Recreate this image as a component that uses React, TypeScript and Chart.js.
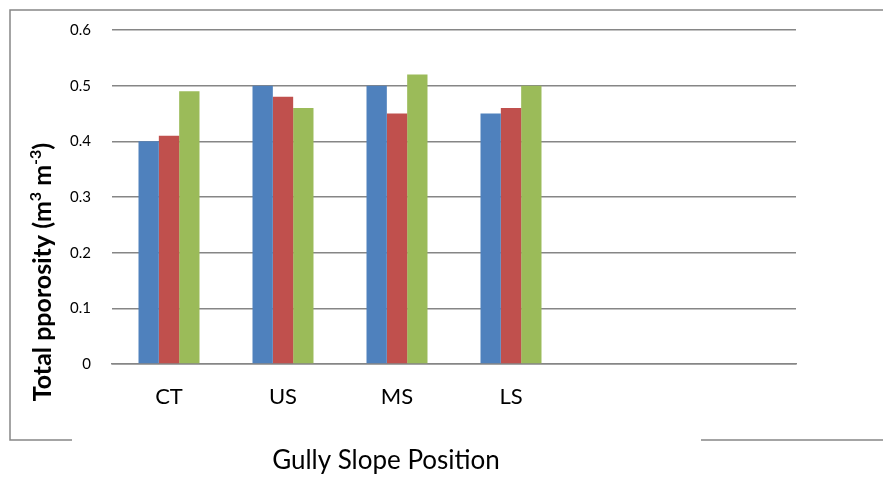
import React, { useEffect, useRef } from "react";
import { Chart, registerables } from "chart.js";

Chart.register(...registerables);

const categories = ["CT", "US", "MS", "LS", "", ""];
const series1 = [0.4, 0.5, 0.5, 0.45];
const series2 = [0.41, 0.48, 0.45, 0.46];
const series3 = [0.49, 0.46, 0.52, 0.5];
const yTicks = [0, 0.1, 0.2, 0.3, 0.4, 0.5, 0.6];
const xTitle = "Gully Slope Position";
const yTitleParts: { t: string; sup?: boolean }[] = [
  { t: "Total pporosity (m" },
  { t: "3", sup: true },
  { t: " m" },
  { t: "-3", sup: true },
  { t: ")" },
];

const FONT = "Lato, 'Open Sans', sans-serif";
const GRID = "#868686";

const decorPlugin = {
  id: "decor",
  beforeDraw(chart: any) {
    const ctx = chart.ctx;
    ctx.save();
    ctx.fillStyle = "#ffffff";
    ctx.fillRect(0, 0, chart.width, chart.height);
    ctx.strokeStyle = GRID;
    ctx.lineWidth = 1.5;
    ctx.beginPath();
    ctx.moveTo(chart.width, 10);
    ctx.lineTo(10, 10);
    ctx.lineTo(10, 440);
    ctx.lineTo(72, 440);
    ctx.moveTo(701, 440);
    ctx.lineTo(chart.width, 440);
    ctx.stroke();
    ctx.restore();
  },
  afterDraw(chart: any) {
    const ctx = chart.ctx;
    ctx.save();
    // x title
    ctx.fillStyle = "#000000";
    ctx.font = `26px ${FONT}`;
    ctx.textAlign = "center";
    ctx.textBaseline = "middle";
    ctx.fillText(xTitle, 386, 461);
    // y title (rotated, with superscripts)
    const big = `bold 25px ${FONT}`;
    const small = `bold 16px ${FONT}`;
    let total = 0;
    for (const p of yTitleParts) {
      ctx.font = p.sup ? small : big;
      total += ctx.measureText(p.t).width;
    }
    ctx.translate(42, 272);
    ctx.rotate(-Math.PI / 2);
    ctx.textAlign = "left";
    ctx.textBaseline = "alphabetic";
    let x = -total / 2;
    for (const p of yTitleParts) {
      ctx.font = p.sup ? small : big;
      ctx.fillText(p.t, x, p.sup ? -1 : 9);
      x += ctx.measureText(p.t).width;
    }
    ctx.restore();
  },
};

export default function App() {
  const ref = useRef<HTMLCanvasElement | null>(null);
  useEffect(() => {
    if (!ref.current) return;
    const chart = new Chart(ref.current, {
      type: "bar",
      data: {
        labels: categories,
        datasets: [
          { label: "Series1", data: series1, backgroundColor: "#4F81BD" },
          { label: "Series2", data: series2, backgroundColor: "#C0504D" },
          { label: "Series3", data: series3, backgroundColor: "#9BBB59" },
        ],
      },
      options: {
        animation: false,
        responsive: true,
        maintainAspectRatio: false,
        layout: { padding: { left: 0, right: 87, top: 28, bottom: 0 } },
        datasets: { bar: { categoryPercentage: 0.535, barPercentage: 1 } },
        plugins: { legend: { display: false }, tooltip: { enabled: false } },
        scales: {
          x: {
            grid: { display: false, drawTicks: false },
            border: { display: true, color: GRID, width: 1.5 },
            ticks: { color: "#000", font: { family: FONT, size: 22 }, padding: 20 },
            afterFit(scale: any) {
              scale.height = 113;
            },
          },
          y: {
            min: 0,
            max: 0.6,
            afterBuildTicks(scale: any) {
              scale.ticks = yTicks.map((v) => ({ value: v }));
            },
            grid: { color: GRID, lineWidth: 1.5, drawTicks: false },
            border: { display: false },
            ticks: {
              color: "#000",
              font: { family: FONT, size: 15 },
              padding: 21,
              callback: (v: any) => String(Math.round(Number(v) * 10) / 10),
            },
            afterFit(scale: any) {
              scale.width = 112;
            },
          },
        },
      },
      plugins: [decorPlugin],
    });
    return () => chart.destroy();
  }, []);
  return (
    <div style={{ position: "fixed", left: 0, top: 0, width: 883, height: 477, background: "#fff" }}>
      <canvas ref={ref} />
    </div>
  );
}
